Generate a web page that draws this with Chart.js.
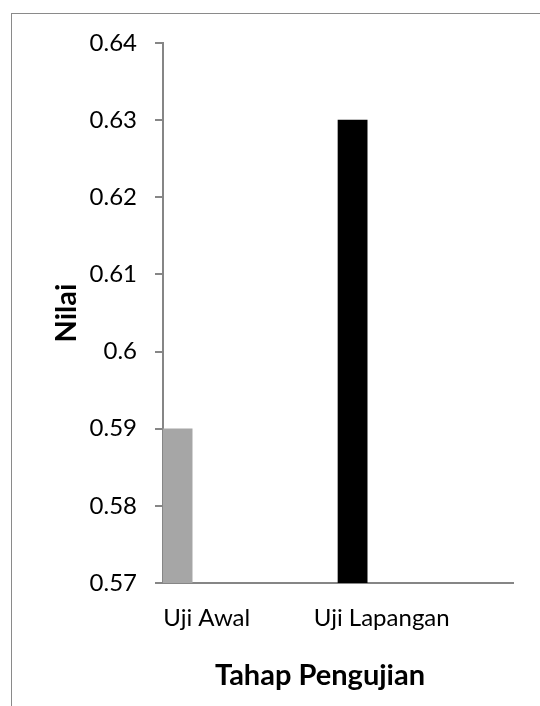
<!DOCTYPE html>
<html>
<head>
<meta charset="utf-8">
<script src="https://cdn.jsdelivr.net/npm/chart.js@4/dist/chart.umd.min.js"></script>
<style>
  html, body { margin: 0; padding: 0; background: #fff; }
  #wrap { position: relative; width: 540px; height: 706px; overflow: hidden; }
  #frame { position: absolute; left: 11px; top: 13px; width: 700px; height: 760px;
           border: 1px solid #8a8a8a; box-sizing: border-box; }
  canvas { position: absolute; left: 0; top: 0; }
</style>
</head>
<body>
<div id="wrap">
  <div id="frame"></div>
  <canvas id="c" width="640" height="706"></canvas>
</div>
<script>
// Test stages on the category axis (blank slots keep the spacing of the chart)
const categories = ['Uji Awal', '', 'Uji Lapangan', ''];
// Score for each stage
const nilai = [0.59, null, 0.63, null];
const barColors = ['#a6a6a6', '#a6a6a6', '#000000', '#000000'];
// Empty companion series that reserve the remaining slots in each group
const spacerA = [null, null, null, null];
const spacerB = [null, null, null, null];
// Value axis range and step
const yMin = 0.57;
const yMax = 0.64;
const yStep = 0.01;

const FONT = 'Lato, "Open Sans", sans-serif';
const AXIS = '#868686';

new Chart(document.getElementById('c'), {
  type: 'bar',
  data: {
    labels: categories,
    datasets: [
      { label: 'Nilai', data: nilai, backgroundColor: barColors, borderWidth: 0 },
      { label: '', data: spacerA, backgroundColor: '#ffffff' },
      { label: '', data: spacerB, backgroundColor: '#ffffff' }
    ]
  },
  options: {
    responsive: false,
    animation: false,
    devicePixelRatio: 1,
    categoryPercentage: 1.0,
    barPercentage: 1.0,
    layout: { padding: { left: 0, top: 43, right: 0, bottom: 0 } },
    plugins: {
      legend: { display: false },
      tooltip: { enabled: false },
      // category-axis caption, centred on the whole chart frame
      title: {
        display: true,
        position: 'bottom',
        text: 'Tahap Pengujian',
        color: '#000',
        font: { family: FONT, size: 29, weight: 'bold' },
        padding: { top: 10, bottom: 13 }
      }
    },
    scales: {
      x: {
        grid: { display: false, drawTicks: false },
        border: { display: true, color: AXIS, width: 2 },
        ticks: { color: '#000', font: { family: FONT, size: 24 }, padding: 21, autoSkip: false, maxRotation: 0 },
        afterFit: (s) => { s.height = 65.2; }
      },
      y: {
        min: yMin,
        max: yMax,
        grid: { drawOnChartArea: false, drawTicks: true, tickLength: 8, color: AXIS, lineWidth: 2 },
        border: { display: true, color: AXIS, width: 2 },
        ticks: {
          stepSize: yStep,
          color: '#000',
          font: { family: FONT, size: 24 },
          padding: 18,
          callback: (v) => String(Number(v.toFixed(2)))
        },
        title: { display: true, text: 'Nilai', color: '#000',
                 font: { family: FONT, size: 29, weight: 'bold' }, padding: { top: 49, bottom: 0 } },
        afterFit: (s) => { s.width = 163; }
      },
      // blank right-hand margin of the plot
      margin: {
        type: 'linear',
        position: 'right',
        display: true,
        grid: { display: false, drawTicks: false },
        border: { display: false },
        ticks: { display: false },
        afterFit: (s) => { s.width = 127; }
      }
    }
  }
});
</script>
</body>
</html>
